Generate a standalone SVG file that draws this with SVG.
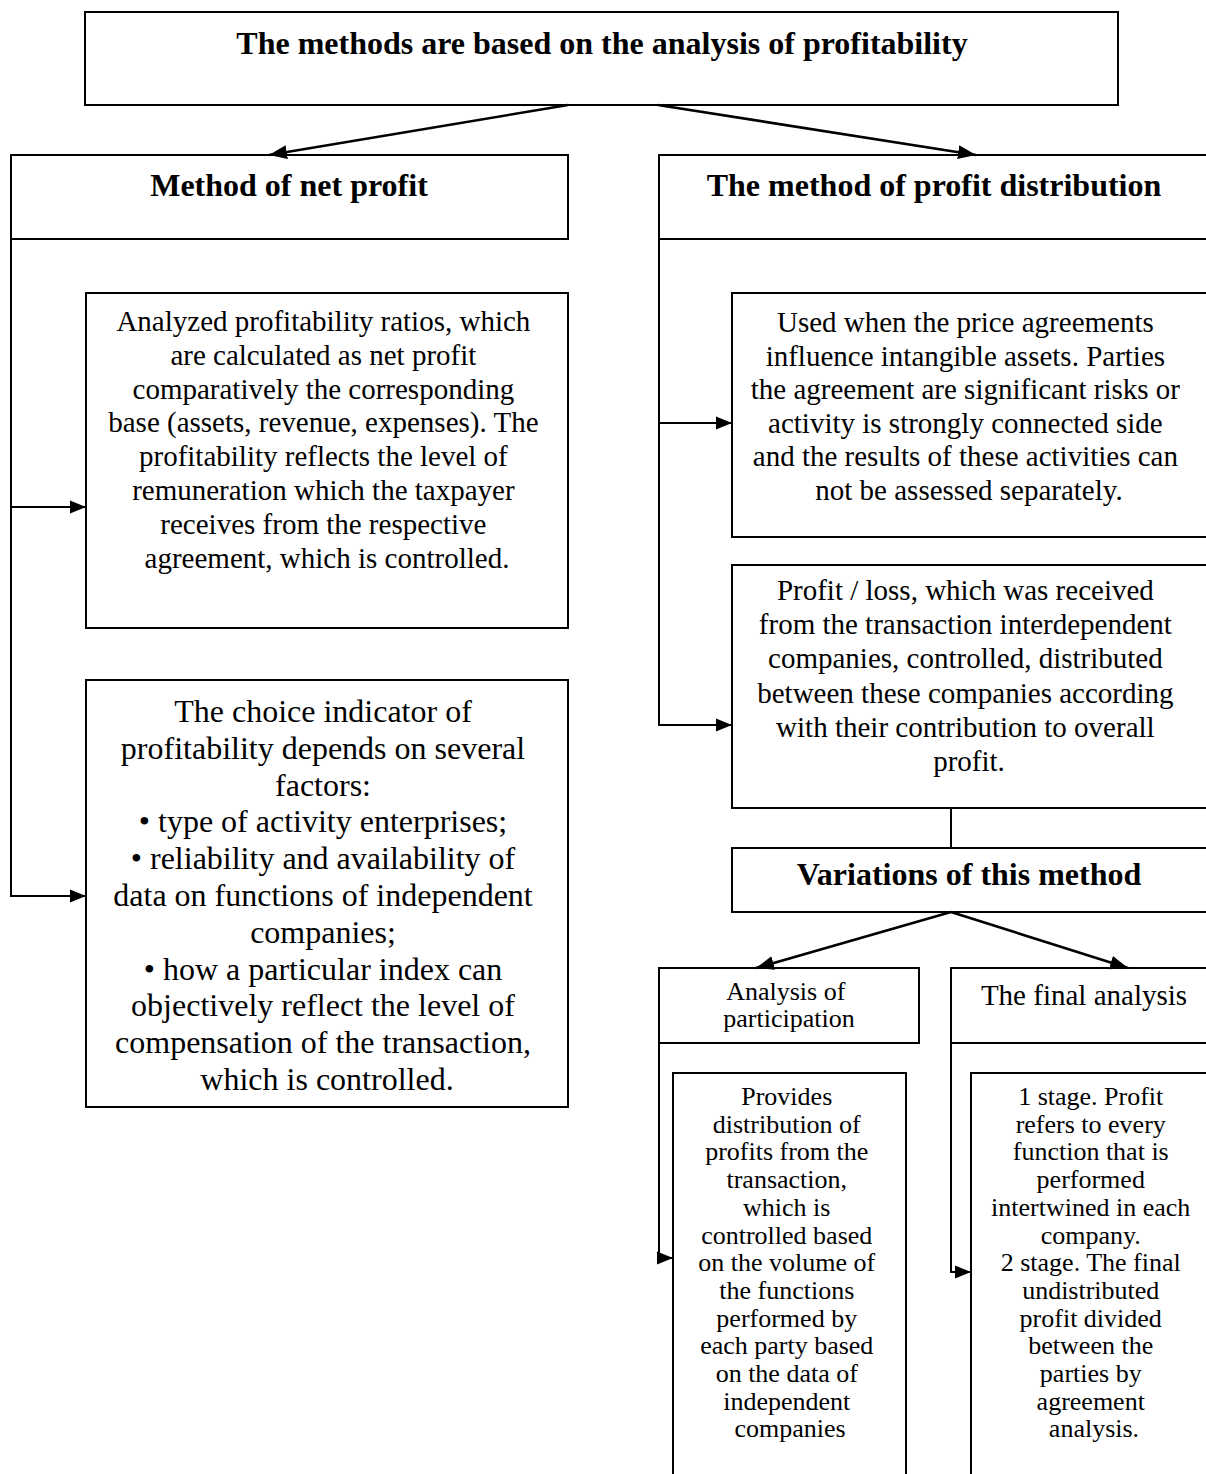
<svg xmlns="http://www.w3.org/2000/svg" width="1206" height="1474" viewBox="0 0 1206 1474">
  <style>
    .box { fill: #fff; stroke: #000; stroke-width: 2; }
    .wire { fill: none; stroke: #000; stroke-width: 2; }
    .diag { fill: none; stroke: #000; stroke-width: 2.6; }
    text { font-family: "Liberation Serif", "Times New Roman", serif; fill: #000; text-anchor: middle; }
    .h { font-weight: bold; font-size: 32px; }
    .b29 { font-size: 29px; }
    .b32 { font-size: 32px; }
    .b26 { font-size: 26px; }
  </style>
  <defs>
    <!-- filled triangular arrowheads, tip at the end of the line -->
    <marker id="arrow" markerUnits="userSpaceOnUse" markerWidth="17" markerHeight="15" refX="16" refY="7.5" orient="auto">
      <path d="M0,1 L16,7.5 L0,14 Z" fill="#000"/>
    </marker>
    <marker id="arrow-lg" markerUnits="userSpaceOnUse" markerWidth="19" markerHeight="16" refX="18" refY="8" orient="auto">
      <path d="M0,1 L18,8 L0,15 Z" fill="#000"/>
    </marker>
  </defs>
  <rect width="1206" height="1474" fill="#fff"/>

  <g id="root">
    <rect class="box" x="85" y="12" width="1033" height="93"/>
    <text class="h" x="602" y="54">The methods are based on the analysis of profitability</text>
  </g>

  <g id="net-profit">
    <rect class="box" x="11" y="155" width="557" height="84"/>
    <text class="h" x="289" y="196">Method of net profit</text>
  </g>

  <g id="profit-distribution">
    <rect class="box" x="659" y="155" width="552" height="84"/>
    <text class="h" x="934" y="196">The method of profit distribution</text>
  </g>

  <g id="net-profit-ratios">
    <rect class="box" x="86" y="293" width="482" height="335"/>
    <text class="b29">
      <tspan x="327" y="331">Analyzed profitability ratios, which</tspan>
      <tspan x="327" y="365">are calculated as net profit</tspan>
      <tspan x="327" y="399">comparatively the corresponding</tspan>
      <tspan x="327" y="432">base (assets, revenue, expenses). The</tspan>
      <tspan x="327" y="466">profitability reflects the level of</tspan>
      <tspan x="327" y="500">remuneration which the taxpayer</tspan>
      <tspan x="327" y="534">receives from the respective</tspan>
      <tspan x="327" y="568">agreement, which is controlled.</tspan>
    </text>
  </g>

  <g id="net-profit-choice">
    <rect class="box" x="86" y="680" width="482" height="427"/>
    <text class="b32">
      <tspan x="327" y="722">The choice indicator of</tspan>
      <tspan x="327" y="759">profitability depends on several</tspan>
      <tspan x="327" y="796">factors:</tspan>
      <tspan x="327" y="832">• type of activity enterprises;</tspan>
      <tspan x="327" y="869">• reliability and availability of</tspan>
      <tspan x="327" y="906">data on functions of independent</tspan>
      <tspan x="327" y="943">companies;</tspan>
      <tspan x="327" y="980">• how a particular index can</tspan>
      <tspan x="327" y="1016">objectively reflect the level of</tspan>
      <tspan x="327" y="1053">compensation of the transaction,</tspan>
      <tspan x="327" y="1090">which is controlled.</tspan>
    </text>
  </g>

  <g id="distribution-usage">
    <rect class="box" x="732" y="293" width="477" height="244"/>
    <text class="b29">
      <tspan x="969" y="332">Used when the price agreements</tspan>
      <tspan x="969" y="366">influence intangible assets. Parties</tspan>
      <tspan x="969" y="399">the agreement are significant risks or</tspan>
      <tspan x="969" y="433">activity is strongly connected side</tspan>
      <tspan x="969" y="466">and the results of these activities can</tspan>
      <tspan x="969" y="500">not be assessed separately.</tspan>
    </text>
  </g>

  <g id="distribution-share">
    <rect class="box" x="732" y="565" width="477" height="243"/>
    <text class="b29">
      <tspan x="969" y="600">Profit / loss, which was received</tspan>
      <tspan x="969" y="634">from the transaction interdependent</tspan>
      <tspan x="969" y="668">companies, controlled, distributed</tspan>
      <tspan x="969" y="703">between these companies according</tspan>
      <tspan x="969" y="737">with their contribution to overall</tspan>
      <tspan x="969" y="771">profit.</tspan>
    </text>
  </g>

  <g id="variations">
    <rect class="box" x="732" y="848" width="477" height="64"/>
    <text class="h" x="969" y="885">Variations of this method</text>
  </g>

  <g id="participation">
    <rect class="box" x="659" y="968" width="260" height="75"/>
    <text class="b26">
      <tspan x="789" y="1000">Analysis of</tspan>
      <tspan x="789" y="1027">participation</tspan>
    </text>
  </g>

  <g id="final-analysis">
    <rect class="box" x="951" y="968" width="267" height="75"/>
    <text class="b29" x="1084" y="1005">The final analysis</text>
  </g>

  <g id="participation-detail">
    <rect class="box" x="673" y="1073" width="233" height="420"/>
    <text class="b26">
      <tspan x="790" y="1105">Provides</tspan>
      <tspan x="790" y="1133">distribution of</tspan>
      <tspan x="790" y="1160">profits from the</tspan>
      <tspan x="790" y="1188">transaction,</tspan>
      <tspan x="790" y="1216">which is</tspan>
      <tspan x="790" y="1244">controlled based</tspan>
      <tspan x="790" y="1271">on the volume of</tspan>
      <tspan x="790" y="1299">the functions</tspan>
      <tspan x="790" y="1327">performed by</tspan>
      <tspan x="790" y="1354">each party based</tspan>
      <tspan x="790" y="1382">on the data of</tspan>
      <tspan x="790" y="1410">independent</tspan>
      <tspan x="790" y="1437">companies</tspan>
    </text>
  </g>

  <g id="final-analysis-detail">
    <rect class="box" x="971" y="1073" width="246" height="420"/>
    <text class="b26">
      <tspan x="1094" y="1105">1 stage. Profit</tspan>
      <tspan x="1094" y="1133">refers to every</tspan>
      <tspan x="1094" y="1160">function that is</tspan>
      <tspan x="1094" y="1188">performed</tspan>
      <tspan x="1094" y="1216">intertwined in each</tspan>
      <tspan x="1094" y="1244">company.</tspan>
      <tspan x="1094" y="1271">2 stage. The final</tspan>
      <tspan x="1094" y="1299">undistributed</tspan>
      <tspan x="1094" y="1327">profit divided</tspan>
      <tspan x="1094" y="1354">between the</tspan>
      <tspan x="1094" y="1382">parties by</tspan>
      <tspan x="1094" y="1410">agreement</tspan>
      <tspan x="1094" y="1437">analysis.</tspan>
    </text>
  </g>

  <!-- connectors, drawn over the boxes so the arrowheads sit on the borders -->
  <g id="connectors">
    <path class="diag" d="M568,105 L269,155" marker-end="url(#arrow-lg)"/>
    <path class="diag" d="M658,105 L976,155" marker-end="url(#arrow-lg)"/>
    <path class="wire" d="M11,239 V896 H86" marker-end="url(#arrow)"/>
    <path class="wire" d="M11,507 H86" marker-end="url(#arrow)"/>
    <path class="wire" d="M659,239 V725 H732" marker-end="url(#arrow)"/>
    <path class="wire" d="M659,423 H732" marker-end="url(#arrow)"/>
    <path class="wire" d="M951,808 V848"/>
    <path class="diag" d="M951,912 L756,968" marker-end="url(#arrow-lg)"/>
    <path class="diag" d="M951,912 L1128,968" marker-end="url(#arrow-lg)"/>
    <path class="wire" d="M659,1043 V1258 H673" marker-end="url(#arrow)"/>
    <path class="wire" d="M951,1043 V1272 H971" marker-end="url(#arrow)"/>
  </g>
</svg>
